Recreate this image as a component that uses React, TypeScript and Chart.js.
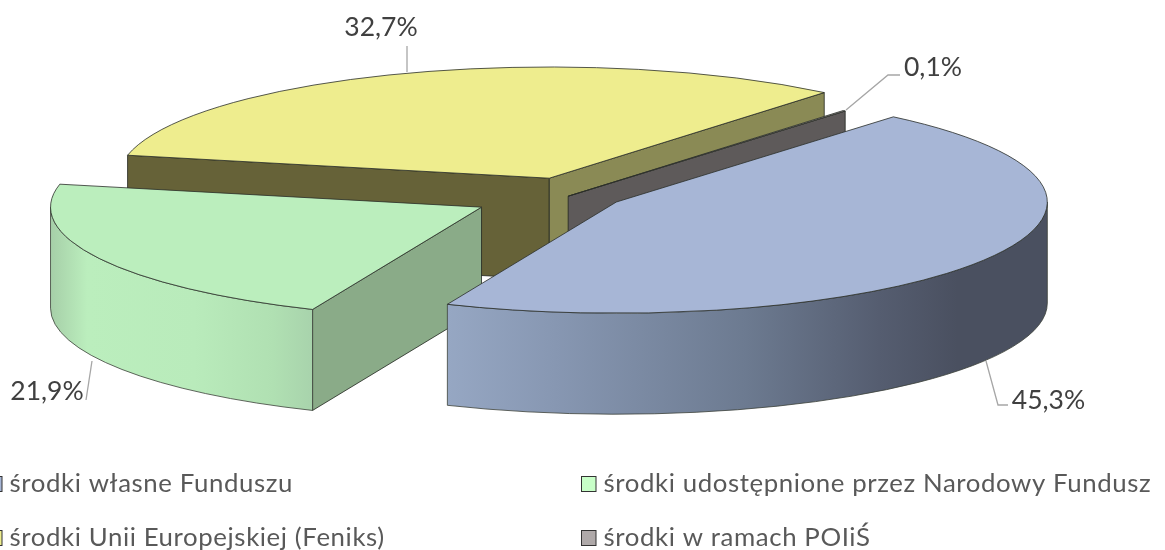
import React, { useEffect, useRef } from "react";
import { Chart, registerables } from "chart.js";

Chart.register(...registerables);

const sliceLabels = [
  "środki własne Funduszu",
  "środki udostępnione przez Narodowy Fundusz",
  "środki Unii Europejskiej (Feniks)",
  "środki w ramach POIiŚ",
];
const shares = [45.3, 21.9, 32.7, 0.1];
const explosions = [52, 102, 69, -6];
const topColors = ["#A7B6D6", "#BBEEBD", "#EEED8E", "#A9A4A4"];
const legendColors = ["#A7B6D6", "#C8FFC8", "#EEED8E", "#AFA9A9"];
const paintOrder = [2, 3, 1, 0];
const startFaceColors = ["#5E5A5A", "#8AAB88", "#666238", "#5E5A5A"];
const endFaceColors = ["#5E5A5A", "#8AAB88", "#8A8A55", "#5E5A5A"];
const wallStops: [number, string][][] = [
  [[0, "#96A7C3"], [0.18, "#8797B2"], [0.5, "#6C7A90"], [0.72, "#555D70"], [0.85, "#4A5060"], [1, "#4A5060"]],
  [[0, "#A6CFA8"], [0.14, "#BBEEBD"], [0.55, "#B9EBBB"], [0.85, "#B0E0B2"], [1, "#A8D3AC"]],
  [[0, "#8A8A55"], [1, "#8A8A55"]],
  [[0, "#5E5A5A"], [1, "#5E5A5A"]],
];
// pixel anchors for the percentage labels [text x, text y] and their leader lines
const valueLabelPos = [[1048.5, 400], [47, 391], [381, 27], [933, 67]];
const leaders = [
  [[986, 361], [998, 405], [1008, 405]],
  [[92, 361], [86, 400]],
  [[407, 72], [407, 46]],
  [[846, 110], [888, 75], [900, 75]],
];
const legendPos = [[-13, 484], [581, 484], [-13, 538], [581, 538]];

const SQUASH = 0.258;
const DEPTH = 101;
const LEGEND_FONT = "25.8px Lato, Carlito, sans-serif";
const VALUE_FONT = "26.5px Lato, Carlito, sans-serif";

const pie3d = {
  id: "pie3d",
  beforeDatasetsDraw(chart: any) {
    const ctx = chart.ctx as CanvasRenderingContext2D;
    const arcs = chart.getDatasetMeta(0).data as any[];
    ctx.save();
    ctx.lineJoin = "round";
    for (const i of paintOrder) {
      const arc = arcs[i];
      const s = arc.startAngle;
      const e = arc.endAngle;
      const r = arc.outerRadius;
      const mid = (s + e) / 2;
      const ax = arc.x + Math.cos(mid) * explosions[i];
      const ay = arc.y + Math.sin(mid) * explosions[i] * SQUASH;
      const pt = (t: number) => [ax + r * Math.cos(t), ay + r * SQUASH * Math.sin(t)];

      const face = (t: number, color: string) => {
        const p = pt(t);
        ctx.beginPath();
        ctx.moveTo(ax, ay);
        ctx.lineTo(p[0], p[1]);
        ctx.lineTo(p[0], p[1] + DEPTH);
        ctx.lineTo(ax, ay + DEPTH);
        ctx.closePath();
        ctx.fillStyle = color;
        ctx.fill();
        ctx.strokeStyle = "#22261f";
        ctx.lineWidth = 0.8;
        ctx.stroke();
      };
      if (Math.cos(s) < 0) face(s, startFaceColors[i]);
      if (Math.cos(e) > 0) face(e, endFaceColors[i]);

      // outer wall: the part of the rim facing the viewer
      const norm = (t: number) => {
        let v = t;
        while (v > Math.PI) v -= Math.PI * 2;
        while (v < -Math.PI) v += Math.PI * 2;
        return v;
      };
      const n1 = norm(s);
      const n2 = n1 + (e - s);
      const w1 = Math.max(n1, 0);
      const w2 = Math.min(n2, Math.PI);
      if (w2 > w1) {
        const xs = [pt(w1)[0], pt(w2)[0]];
        const minX = Math.min(xs[0], xs[1]);
        const maxX = Math.max(xs[0], xs[1]);
        const g = ctx.createLinearGradient(minX, 0, maxX, 0);
        wallStops[i].forEach(([o, c]) => g.addColorStop(o, c));
        ctx.beginPath();
        ctx.ellipse(ax, ay, r, r * SQUASH, 0, w1, w2, false);
        ctx.lineTo(pt(w2)[0], pt(w2)[1] + DEPTH);
        ctx.ellipse(ax, ay + DEPTH, r, r * SQUASH, 0, w2, w1, true);
        ctx.closePath();
        ctx.fillStyle = g;
        ctx.fill();
        ctx.strokeStyle = "#3b4038";
        ctx.lineWidth = 0.8;
        ctx.stroke();
      }

      // top surface: the library's own arc, flattened and pulled out
      ctx.save();
      ctx.translate(ax, ay);
      ctx.scale(1, SQUASH);
      ctx.translate(-arc.x, -arc.y);
      arc.draw(ctx);
      ctx.restore();

      ctx.beginPath();
      ctx.moveTo(ax, ay);
      ctx.ellipse(ax, ay, r, r * SQUASH, 0, s, e, false);
      ctx.closePath();
      ctx.strokeStyle = "#2a2d28";
      ctx.lineWidth = 0.8;
      ctx.stroke();
    }
    ctx.restore();

    drawTexts(chart);
    return false;
  },
};

function drawTexts(chart: any) {
  const ctx = chart.ctx as CanvasRenderingContext2D;
  ctx.save();
  ctx.strokeStyle = "#A6A6A6";
  ctx.lineWidth = 1.3;
  leaders.forEach((pts) => {
    ctx.beginPath();
    pts.forEach(([x, y], k) => (k ? ctx.lineTo(x, y) : ctx.moveTo(x, y)));
    ctx.stroke();
  });
  ctx.font = VALUE_FONT;
  ctx.fillStyle = "#404040";
  ctx.textAlign = "center";
  ctx.textBaseline = "middle";
  shares.forEach((v, i) => {
    const [x, y] = valueLabelPos[i];
    ctx.fillText(v.toFixed(1).replace(".", ",") + "%", x, y);
  });
  ctx.font = LEGEND_FONT;
  ctx.textAlign = "left";
  (ctx as any).letterSpacing = "0.6px";
  sliceLabels.forEach((label, i) => {
    const [x, y] = legendPos[i];
    ctx.fillStyle = legendColors[i];
    ctx.fillRect(x, y - 7.5, 15, 15);
    ctx.strokeStyle = "#333333";
    ctx.lineWidth = 1;
    ctx.strokeRect(x + 0.5, y - 7.5, 14.5, 15);
    ctx.fillStyle = "#595959";
    ctx.fillText(label, x + 22.5, y);
  });
  ctx.restore();
}

export default function App() {
  const ref = useRef<HTMLCanvasElement>(null);
  useEffect(() => {
    if (!ref.current) return;
    const chart = new Chart(ref.current, {
      type: "pie",
      data: {
        labels: sliceLabels,
        datasets: [{ data: shares, backgroundColor: topColors, borderWidth: 0 }],
      },
      options: {
        responsive: false,
        animation: false,
        rotation: 40,
        radius: 431,
        layout: { padding: { right: 21, bottom: 160 } },
        events: [],
        plugins: { legend: { display: false }, tooltip: { enabled: false } },
      },
      plugins: [pie3d],
    } as any);
    return () => chart.destroy();
  }, []);
  return (
    <canvas
      ref={ref}
      width={1165}
      height={550}
      style={{ position: "absolute", left: 0, top: 0, display: "block" }}
    />
  );
}
